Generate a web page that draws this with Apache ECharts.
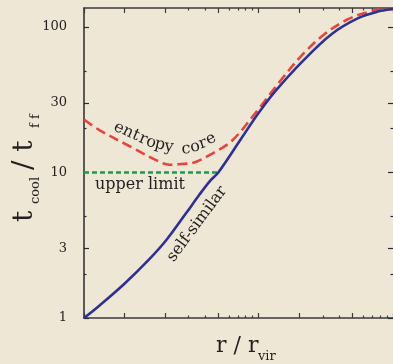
<!DOCTYPE html>
<html>
<head>
<meta charset="utf-8">
<script src="https://cdn.jsdelivr.net/npm/echarts@6/dist/echarts.min.js"></script>
<style>
  html, body { margin: 0; padding: 0; background: #eee7d6; }
  #chart { width: 393px; height: 364px; }
</style>
</head>
<body>
<div id="chart"></div>
<script>
// Radius in units of the virial radius (log axis)
const xMajorTicks = [0.005, 0.01, 0.02, 0.05, 0.1, 0.2, 0.5, 1];
const xMinorTicks = [0.03, 0.04, 0.06, 0.07, 0.08, 0.09, 0.3, 0.4, 0.6, 0.7, 0.8, 0.9];
// Cooling time over free-fall time (log axis)
const yMajorTicks = [1, 3, 10, 30, 100];
const yMinorTicks = [2, 5, 20, 50];

// Self-similar profile
const selfSimilarR = [0.005, 0.0066, 0.01, 0.0154, 0.0206, 0.029, 0.036, 0.0436, 0.05, 0.075, 0.1, 0.132, 0.21, 0.35, 0.55, 0.78, 1];
const selfSimilarT = [1, 1.23, 1.72, 2.55, 3.45, 5.3, 7.0, 8.8, 10, 17.4, 25.7, 35.9, 57.6, 89.5, 115, 128, 133];

// Profile with an entropy core
const entropyR = [0.005, 0.0066, 0.0115, 0.0174, 0.0217, 0.029, 0.0321, 0.0451, 0.0635, 0.1, 0.142, 0.21, 0.31, 0.467, 0.657, 0.78, 1];
const entropyT = [23.1, 19.4, 14.8, 12.1, 11.3, 11.5, 11.6, 13.5, 16.6, 27.4, 41.6, 64, 89.5, 113.5, 127, 131, 133];

// Upper limit on t_cool / t_ff
const upperLimitR = [0.005, 0.05];
const upperLimitT = [10, 10];

const pairs = (xs, ys) => xs.map((x, i) => [x, ys[i]]);

const SERIF = '"DejaVu Serif", "Liberation Serif", serif';
const INK = '#231f20';

const X_MIN = 0.005, X_MAX = 1;
const Y_MIN = 1, Y_MAX = 135;

function xAxisDef(position, ticks, len, showLine) {
  return {
    type: 'log', min: X_MIN, max: X_MAX, position: position,
    axisLine: { show: showLine, lineStyle: { color: '#3b3b3b', width: 1.5 } },
    axisTick: { show: true, inside: true, length: len, customValues: ticks,
                lineStyle: { color: '#3b3b3b', width: 1.2 } },
    axisLabel: { show: false },
    splitLine: { show: false },
    minorTick: { show: false }
  };
}
function yAxisDef(position, ticks, len, showLine, labels) {
  return {
    type: 'log', min: Y_MIN, max: Y_MAX, position: position,
    axisLine: { show: showLine, lineStyle: { color: '#2a2a2a', width: 1.5 } },
    axisTick: { show: true, inside: true, length: len, customValues: ticks,
                lineStyle: { color: '#2a2a2a', width: 1.2 } },
    axisLabel: labels ? {
      show: true, customValues: ticks, margin: 17,
      fontFamily: SERIF, fontSize: 13, color: INK,
      formatter: v => String(Math.round(v))
    } : { show: false },
    splitLine: { show: false },
    minorTick: { show: false }
  };
}

// Letters of "entropy core", laid along the curve
const coreText = 'entropy core'.split('');
const coreX = [119, 128, 136, 143, 151, 160, 169, 178, 186, 195, 203, 211];
const coreY = [128, 132, 135.5, 139, 142.5, 144.5, 147, 149, 149, 147, 143.5, 139];
const coreRot = [28, 26, 24, 22, 18, 13, 7, 2, -3, -12, -20, -26];

const graphics = [];
coreText.forEach((c, i) => {
  if (c === ' ') return;
  graphics.push({
    type: 'text', x: coreX[i], y: coreY[i], rotation: -coreRot[i] * Math.PI / 180,
    style: { text: c, fontFamily: SERIF, fontSize: 16, fill: INK, align: 'center', verticalAlign: 'middle' }
  });
});
graphics.push({
  type: 'text', x: 95, y: 185,
  style: { text: 'upper limit', fontFamily: SERIF, fontSize: 16, fill: INK, align: 'left', verticalAlign: 'middle' }
});
graphics.push({
  type: 'text', x: 197, y: 224, rotation: 53.5 * Math.PI / 180,
  style: { text: 'self-similar', fontFamily: SERIF, fontSize: 16, fill: INK, align: 'center', verticalAlign: 'middle' }
});
// x-axis title: r / r_vir
graphics.push({
  type: 'text', x: 216, y: 346,
  style: { text: 'r / r', fontFamily: SERIF, fontSize: 22, fill: INK, align: 'left', verticalAlign: 'middle' }
});
graphics.push({
  type: 'text', x: 258, y: 357,
  style: { text: 'vir', fontFamily: SERIF, fontSize: 13, fill: INK, align: 'left', verticalAlign: 'middle' }
});
// y-axis title: t_cool / t_ff (reads bottom to top)
const R90 = Math.PI / 2;
graphics.push({
  type: 'text', x: 25, y: 222, rotation: R90,
  style: { text: 't', fontFamily: SERIF, fontSize: 28, fill: INK, align: 'left', verticalAlign: 'middle' }
});
graphics.push({
  type: 'text', x: 36, y: 204, rotation: R90,
  style: { text: 'cool', fontFamily: SERIF, fontSize: 13, fill: INK, align: 'left', verticalAlign: 'middle' }
});
graphics.push({
  type: 'text', x: 25, y: 170, rotation: R90,
  style: { text: '/ t', fontFamily: SERIF, fontSize: 28, fill: INK, align: 'left', verticalAlign: 'middle' }
});
graphics.push({
  type: 'text', x: 36, y: 128, rotation: R90,
  style: { text: 'f f', fontFamily: SERIF, fontSize: 13, fill: INK, align: 'left', verticalAlign: 'middle' }
});

const chart = echarts.init(document.getElementById('chart'), null, { renderer: 'canvas' });
chart.setOption({
  backgroundColor: '#eee7d6',
  animation: false,
  grid: { left: 84, top: 8, width: 310.6, height: 310, containLabel: false },
  xAxis: [
    xAxisDef('bottom', xMajorTicks, 5, true),
    xAxisDef('bottom', xMinorTicks, 2.5, false),
    xAxisDef('top', xMajorTicks, 5, true),
    xAxisDef('top', xMinorTicks, 2.5, false)
  ],
  yAxis: [
    yAxisDef('left', yMajorTicks, 5, true, true),
    yAxisDef('left', yMinorTicks, 2.5, false, false),
    yAxisDef('right', yMajorTicks, 5, false, false),
    yAxisDef('right', yMinorTicks, 2.5, false, false)
  ],
  series: [
    {
      name: 'upper limit', type: 'line', xAxisIndex: 0, yAxisIndex: 0,
      data: pairs(upperLimitR, upperLimitT), symbol: 'none',
      lineStyle: { color: '#1d9a4f', width: 2.6, type: [5, 3] }
    },
    {
      name: 'entropy core', type: 'line', xAxisIndex: 0, yAxisIndex: 0,
      data: pairs(entropyR, entropyT), symbol: 'none', smooth: 0.35,
      lineStyle: { color: '#e8443a', width: 2.6, type: [10, 5] }
    },
    {
      name: 'self-similar', type: 'line', xAxisIndex: 0, yAxisIndex: 0,
      data: pairs(selfSimilarR, selfSimilarT), symbol: 'none', smooth: 0.35,
      lineStyle: { color: '#2e3192', width: 2.6 }
    }
  ],
  graphic: graphics
});
</script>
</body>
</html>
